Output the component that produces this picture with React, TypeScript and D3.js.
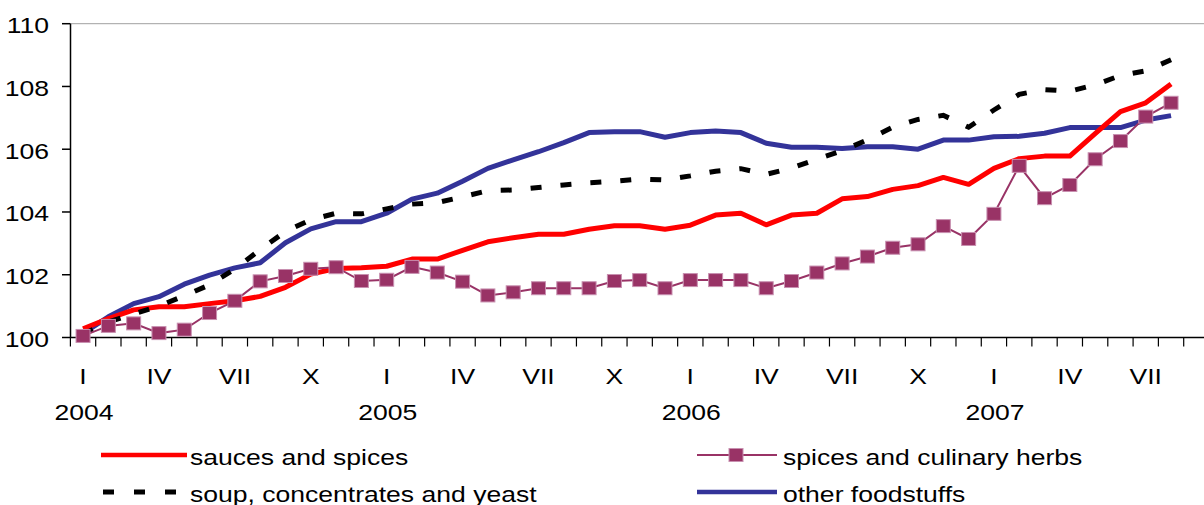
import React, { useEffect, useRef } from 'react';
import * as d3 from 'd3';

// monthly index, January 2004 = 100
const years = ['2004', '2005', '2006', '2007'];
const monthTicks = ['I', 'IV', 'VII', 'X'];
const yTicks = [100, 102, 104, 106, 108, 110];

const sauces = [100.28, 100.6, 100.88, 100.98, 100.98, 101.08, 101.17, 101.31, 101.6, 102.02, 102.2, 102.22,
  102.27, 102.5, 102.5, 102.78, 103.05, 103.18, 103.29, 103.29, 103.45, 103.56, 103.56, 103.45,
  103.58, 103.9, 103.96, 103.59, 103.9, 103.96, 104.42, 104.49, 104.72, 104.84, 105.1, 104.88,
  105.39, 105.7, 105.78, 105.78, 106.5, 107.2, 107.48, 108.08];

const herbs = [100.05, 100.37, 100.45, 100.14, 100.25, 100.78, 101.17, 101.79, 101.96, 102.19, 102.24, 101.8,
  101.84, 102.25, 102.07, 101.78, 101.34, 101.44, 101.57, 101.57, 101.57, 101.8, 101.83, 101.57,
  101.83, 101.83, 101.83, 101.57, 101.8, 102.07, 102.36, 102.58, 102.86, 102.97, 103.55, 103.14,
  103.94, 105.47, 104.44, 104.86, 105.68, 106.26, 107.04, 107.48];

const soup = [100.1, 100.5, 100.75, 101.0, 101.33, 101.68, 102.18, 102.8, 103.38, 103.75, 103.96, 103.94,
  104.1, 104.25, 104.3, 104.48, 104.68, 104.7, 104.78, 104.86, 104.93, 104.98, 105.05, 105.02,
  105.15, 105.3, 105.38, 105.2, 105.4, 105.68, 105.95, 106.3, 106.7, 106.95, 107.08, 106.7,
  107.25, 107.75, 107.9, 107.85, 108.05, 108.35, 108.5, 108.85];

const other = [100.13, 100.66, 101.08, 101.3, 101.7, 101.99, 102.22, 102.38, 103.02, 103.46, 103.69, 103.69,
  103.96, 104.41, 104.6, 104.98, 105.39, 105.66, 105.92, 106.21, 106.53, 106.56, 106.56, 106.38,
  106.53, 106.58, 106.53, 106.19, 106.06, 106.06, 106.02, 106.08, 106.08, 106.0, 106.29, 106.29,
  106.4, 106.41, 106.51, 106.69, 106.69, 106.69, 106.93, 107.07];

const FONT = '"Liberation Sans", Arial, sans-serif';
const STRETCH = 1.19;

function App() {
  const ref = useRef<SVGSVGElement>(null);

  useEffect(() => {
    const svg = d3.select(ref.current);
    svg.selectAll('*').remove();

    const x = d3.scaleLinear().domain([-0.5, 44.5]).range([70.4, 1209]);
    const y = d3.scaleLinear().domain([100, 110]).range([337.5, 23.7]);

    const label = (g: any, tx: number, ty: number, text: string, anchor: string) =>
      g.append('text')
        .attr('transform', `translate(${tx},${ty}) scale(${STRETCH},1)`)
        .attr('text-anchor', anchor)
        .attr('font-family', FONT)
        .attr('font-size', 22.3)
        .attr('fill', '#000')
        .text(text);

    // top border line at 110
    svg.append('line')
      .attr('x1', x.range()[0]).attr('x2', 1204)
      .attr('y1', y(110)).attr('y2', y(110))
      .attr('stroke', '#a0a0a0').attr('stroke-width', 1);

    // y axis
    const yAxis = svg.append('g');
    yAxis.append('line')
      .attr('x1', 70.5).attr('x2', 70.5)
      .attr('y1', y(110)).attr('y2', y(100))
      .attr('stroke', '#000').attr('stroke-width', 1.5);
    yTicks.forEach(t => {
      yAxis.append('line')
        .attr('x1', 62).attr('x2', 70.5)
        .attr('y1', y(t)).attr('y2', y(t))
        .attr('stroke', '#000').attr('stroke-width', 1.5);
      label(yAxis, 49, y(t) + 9.5, String(t), 'end');
    });

    // x axis
    const xAxis = svg.append('g');
    xAxis.append('line')
      .attr('x1', 70).attr('x2', 1204)
      .attr('y1', y(100)).attr('y2', y(100))
      .attr('stroke', '#000').attr('stroke-width', 1.5);
    d3.range(-0.5, 45, 1).forEach(b => {
      xAxis.append('line')
        .attr('x1', x(b)).attr('x2', x(b))
        .attr('y1', y(100)).attr('y2', y(100) + 9)
        .attr('stroke', '#000').attr('stroke-width', 1.2);
    });
    for (let i = 0; i < sauces.length; i += 3) {
      label(xAxis, x(i), 384, monthTicks[(i / 3) % 4], 'middle');
    }
    years.forEach((yr, k) => label(xAxis, x(k * 12) + 1, 420, yr, 'middle'));

    const line = d3.line<number>().x((_, i) => x(i)).y(d => y(d));

    const plot = svg.append('g');
    plot.append('path').datum(other)
      .attr('d', line).attr('fill', 'none')
      .attr('stroke', '#333399').attr('stroke-width', 5).attr('stroke-linejoin', 'round');
    plot.append('path').datum(sauces)
      .attr('d', line).attr('fill', 'none')
      .attr('stroke', '#ff0000').attr('stroke-width', 5).attr('stroke-linejoin', 'round');
    plot.append('path').datum(soup)
      .attr('d', line).attr('fill', 'none')
      .attr('stroke', '#000').attr('stroke-width', 5).attr('stroke-dasharray', '11,19');
    plot.append('path').datum(herbs)
      .attr('d', line).attr('fill', 'none')
      .attr('stroke', '#993366').attr('stroke-width', 2);
    plot.selectAll('.marker')
      .data(herbs)
      .join('rect')
      .attr('class', 'marker')
      .attr('x', (_, i) => x(i) - 7)
      .attr('y', d => y(d) - 6.5)
      .attr('width', 14)
      .attr('height', 13)
      .attr('fill', '#993366')
      .attr('stroke', '#c890b0')
      .attr('stroke-width', 1);

    // legend
    const legend = svg.append('g');
    const items = [
      { name: 'sauces and spices', color: '#ff0000', w: 4.5, dash: null, marker: false, lx: 101, ty: 455 },
      { name: 'spices and culinary herbs', color: '#993366', w: 2, dash: null, marker: true, lx: 697, ty: 455 },
      { name: 'soup, concentrates and yeast', color: '#000', w: 5, dash: '11,20', marker: false, lx: 103, ty: 492 },
      { name: 'other foodstuffs', color: '#333399', w: 4.5, dash: null, marker: false, lx: 697, ty: 492 },
    ];
    items.forEach(it => {
      const x0 = it.lx;
      const x1 = it.lx < 500 ? 187 : 777;
      legend.append('line')
        .attr('x1', x0).attr('x2', x1).attr('y1', it.ty).attr('y2', it.ty)
        .attr('stroke', it.color).attr('stroke-width', it.w)
        .attr('stroke-dasharray', it.dash);
      if (it.marker) {
        legend.append('rect')
          .attr('x', 736 - 7).attr('y', it.ty - 6.5).attr('width', 14).attr('height', 13)
          .attr('fill', '#993366').attr('stroke', '#c890b0');
      }
      label(legend, it.lx < 500 ? 190 : 783, it.ty + 10, it.name, 'start');
    });
  }, []);

  return (
    <svg ref={ref} width={1204} height={505}
      style={{ position: 'absolute', left: 0, top: 0, background: '#fff' }} />
  );
}

export default App;
